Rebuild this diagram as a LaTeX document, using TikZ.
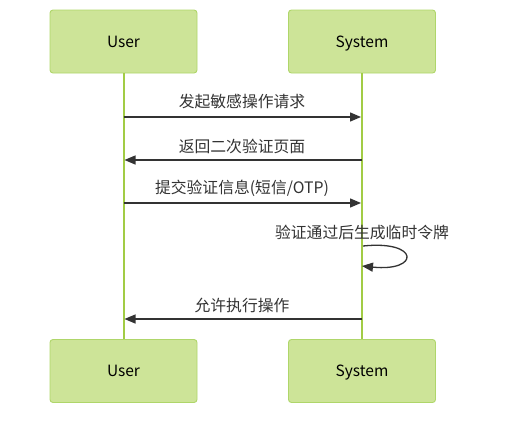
\documentclass[tikz,border=0pt]{standalone}
\usepackage{fontspec}
\setmainfont{Noto Sans CJK SC}
\usepackage{xcolor}
\definecolor{actorfill}{HTML}{CDE498}
\definecolor{actorline}{HTML}{AFD66A}
\definecolor{lifeline}{HTML}{A2CC45}
\definecolor{msgline}{HTML}{333333}
\usepackage{tikz}
\usetikzlibrary{arrows.meta, positioning, calc}

\tikzset{
  actor/.style={draw=actorline, fill=actorfill, line width=0.9pt, rounded corners=3pt,
    minimum width=147pt, minimum height=63pt, inner sep=0pt, text height=12.5pt, text depth=1pt,
    font=\fontsize{15.5}{18}\selectfont},
  life/.style={draw=lifeline, line width=2pt},
  msg/.style={draw=msgline, line width=1.3pt, -{Triangle[length=11pt, width=9pt]}},
  msglabel/.style={text=msgline, font=\fontsize{15.8}{18}\selectfont, inner sep=0pt}
}

\begin{document}
\begin{tikzpicture}[x=1pt, y=-1pt]
  \useasboundingbox (0,0) rectangle (507,421);

  % Participants, top and bottom
  \node[actor] (userT) at (123.5, 41.5) {User};
  \node[actor] (sysT) at (362, 41.5) {System};
  \node[actor] (userB) at (123.5, 371) {User};
  \node[actor] (sysB) at (362, 371) {System};

  % Lifelines
  \draw[life] (userT.south) -- (userB.north);
  \draw[life] (sysT.south) -- (sysB.north);

  % Message points on the lifelines
  \coordinate (u1) at (123.5, 117); \coordinate (s1) at (361, 117);
  \coordinate (u2) at (124.5, 160); \coordinate (s2) at (362, 160);
  \coordinate (u3) at (123.5, 203); \coordinate (s3) at (361, 203);
  \coordinate (s4a) at (363, 246); \coordinate (s4b) at (362, 266);
  \coordinate (u5) at (124.5, 319); \coordinate (s5) at (362, 319);

  % Messages
  \draw[msg] (u1) -- (s1);
  \node[msglabel] (m1) at (242, 102) {发起敏感操作请求};
  \draw[msg] (s2) -- (u2);
  \node[msglabel] (m2) at (242, 146) {返回二次验证页面};
  \draw[msg] (u3) -- (s3);
  \node[msglabel] (m3) at (242, 188) {提交验证信息(短信/OTP)};

  % Self message on System
  \draw[msg] (s4a) .. controls (420, 240) and (420, 272) .. (s4b);
  \node[msglabel] (m4) at (362, 232) {验证通过后生成临时令牌};

  \draw[msg] (s5) -- (u5);
  \node[msglabel] (m5) at (242, 305) {允许执行操作};
\end{tikzpicture}
\end{document}
